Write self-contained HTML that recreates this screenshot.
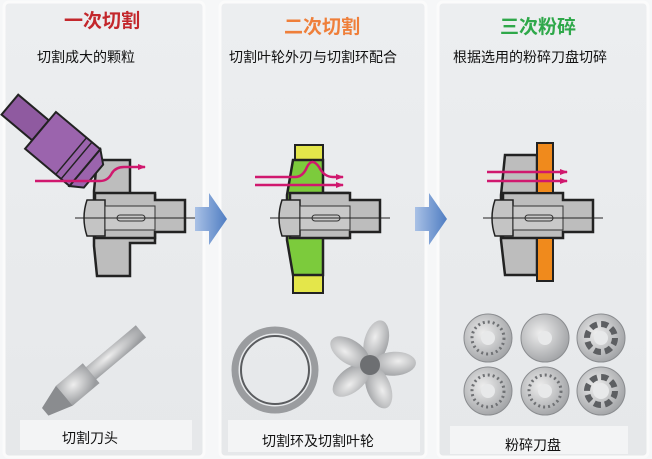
<!DOCTYPE html>
<html><head><meta charset="utf-8"><style>
body{margin:0;width:652px;height:459px;background:#fff;overflow:hidden;font-family:"Liberation Sans","Noto Sans CJK SC",sans-serif}
svg{position:absolute;left:0;top:0}
text{font-family:"Liberation Sans","Noto Sans CJK SC",sans-serif}
</style></head><body>
<svg width="652" height="459" viewBox="0 0 652 459">
<defs>
<linearGradient id="pg" x1="0" y1="0" x2="0" y2="1"><stop offset="0" stop-color="#eceef0"/><stop offset="1" stop-color="#e6e8ea"/></linearGradient>
<linearGradient id="ar" x1="0" y1="0" x2="1" y2="0"><stop offset="0" stop-color="#a9c1e6"/><stop offset="1" stop-color="#4f7dc2"/></linearGradient>
<radialGradient id="met" cx="0.4" cy="0.4" r="0.7"><stop offset="0" stop-color="#eeeeee"/><stop offset="1" stop-color="#9a9c9f"/></radialGradient>
<marker id="mk" markerUnits="userSpaceOnUse" markerWidth="8" markerHeight="8" refX="7" refY="4" orient="auto"><path d="M0,1 L8,4 L0,7z" fill="#d0186e"/></marker>
<g id="hub">
<path d="M0,-25 h60 v7 h30 v32 h-30 v6 h-60z" fill="#bdbdbd" stroke="#222" stroke-width="2.5"/>
<path d="M-8,-18 h18 v36 h-18 q-6,-18 0,-36z" fill="#c4c4c4" stroke="#222" stroke-width="1.5"/>
<rect x="10" y="-12" width="50" height="24" fill="#c9c9c9" stroke="#333" stroke-width="1"/>
<rect x="22" y="-3" width="28" height="6" rx="3" fill="none" stroke="#333" stroke-width="1"/>
<line x1="-20" y1="0" x2="100" y2="0" stroke="#222" stroke-width="1"/>
</g>
</defs>
<rect width="652" height="459" fill="#f6f7f8"/>
<rect x="4" y="2" width="200" height="455" rx="5" fill="url(#pg)" stroke="#fbfbfb" stroke-width="3"/>
<rect x="220" y="2" width="206" height="455" rx="5" fill="url(#pg)" stroke="#fbfbfb" stroke-width="3"/>
<rect x="438" y="2" width="210" height="455" rx="5" fill="url(#pg)" stroke="#fbfbfb" stroke-width="3"/>

<text x="64" y="27" font-size="19" font-weight="bold" fill="#c3272c">一次切割</text>
<text x="284" y="33" font-size="19" font-weight="bold" fill="#ef7f3a">二次切割</text>
<text x="500" y="33" font-size="19" font-weight="bold" fill="#2fa84a">三次粉碎</text>
<text x="37" y="62" font-size="14" fill="#111">切割成大的颗粒</text>
<text x="229" y="62" font-size="14" fill="#111">切割叶轮外刃与切割环配合</text>
<text x="453" y="62" font-size="14" fill="#111">根据选用的粉碎刀盘切碎</text>

<!-- panel1 part -->
<path d="M97,160 h33 v35 h25 v48 h-25 v33 h-33 l-3,-30 v-55 z" fill="#bdbdbd" stroke="#222" stroke-width="2.5"/>
<use href="#hub" x="95" y="218"/>
<g transform="translate(52,140) rotate(40)">
<rect x="-55" y="-13" width="40" height="26" fill="#8f5aa0" stroke="#222" stroke-width="2"/>
<rect x="-15" y="-24" width="58" height="48" fill="#9b64ad" stroke="#222" stroke-width="2"/>
<line x1="25" y1="-24" x2="25" y2="24" stroke="#222" stroke-width="1.5"/>
<line x1="32" y1="-24" x2="32" y2="24" stroke="#222" stroke-width="1.5"/>
<path d="M43,-24 l12,10 v30 l-12,8z" fill="#9b64ad" stroke="#222" stroke-width="2"/>
</g>
<path d="M35,181 H100 q8,0 12,-8 q4,-6 12,-6 H145" fill="none" stroke="#d0186e" stroke-width="2.5" marker-end="url(#mk)"/>

<!-- panel2 part -->
<rect x="295" y="145" width="28" height="17" fill="#e4e64a" stroke="#222" stroke-width="2"/>
<rect x="293" y="275" width="30" height="18" fill="#e4e64a" stroke="#222" stroke-width="2"/>
<path d="M293,160 h30 v33 h25 v45 h-25 v37 h-30 l-6,-35 v-45 z" fill="#7ccb3c" stroke="#222" stroke-width="2.5"/>
<use href="#hub" x="290" y="218"/>
<path d="M255,177 H295 q8,0 12,-10 q5,-10 12,0 q5,10 14,10 H343" fill="none" stroke="#d0186e" stroke-width="2.5" marker-end="url(#mk)"/>
<path d="M255,185 H343" fill="none" stroke="#d0186e" stroke-width="2.5" marker-end="url(#mk)"/>

<!-- panel3 part -->
<path d="M505,155 h32 v38 h12 v45 h-12 v37 h-32 l-4,-35 v-45 z" fill="#bdbdbd" stroke="#222" stroke-width="2.5"/>
<use href="#hub" x="503" y="218"/>
<rect x="537" y="143" width="16" height="50" fill="#f08a1c" stroke="#222" stroke-width="2"/>
<rect x="537" y="238" width="16" height="43" fill="#f08a1c" stroke="#222" stroke-width="2"/>
<path d="M487,172 H567" stroke="#d0186e" stroke-width="2.5" marker-end="url(#mk)"/>
<path d="M487,181 H567" stroke="#d0186e" stroke-width="2.5" marker-end="url(#mk)"/>

<!-- big arrows -->
<path d="M195,207 h14 v-14 l18,26 l-18,26 v-14 h-14z" fill="url(#ar)"/>
<path d="M415,207 h14 v-14 l18,26 l-18,26 v-14 h-14z" fill="url(#ar)"/>

<!-- panel1 photo: cutter head -->
<g transform="translate(95,370) rotate(-40)">
<rect x="-10" y="-8" width="70" height="16" fill="url(#met)"/>
<rect x="-40" y="-13" width="35" height="26" fill="url(#met)"/>
<path d="M-40,-13 l-25,8 v10 l25,8z" fill="#8a8c8f"/>
</g>
<!-- panel2 photos -->
<circle cx="275" cy="370" r="40" fill="none" stroke="#9a9c9f" stroke-width="7"/>
<circle cx="275" cy="370" r="34" fill="none" stroke="#5a5c5f" stroke-width="2"/>
<g transform="translate(370,365)" fill="url(#met)">
<ellipse cx="0" cy="-24" rx="12" ry="22" transform="rotate(15)"/>
<ellipse cx="0" cy="-24" rx="12" ry="22" transform="rotate(87)"/>
<ellipse cx="0" cy="-24" rx="12" ry="22" transform="rotate(159)"/>
<ellipse cx="0" cy="-24" rx="12" ry="22" transform="rotate(231)"/>
<ellipse cx="0" cy="-24" rx="12" ry="22" transform="rotate(303)"/>
<circle r="10" fill="#6d6f72"/>
</g>
<!-- panel3 discs -->
<g fill="url(#met)" stroke="#8a8c8f" stroke-width="1">
<circle cx="488" cy="338" r="24"/><circle cx="545" cy="338" r="24"/><circle cx="601" cy="338" r="24"/>
<circle cx="488" cy="391" r="24"/><circle cx="545" cy="391" r="24"/><circle cx="601" cy="391" r="24"/>
</g>
<g fill="none" stroke="#6f7174" stroke-width="3" stroke-dasharray="2 3">
<circle cx="488" cy="338" r="16"/><circle cx="488" cy="391" r="16"/><circle cx="545" cy="391" r="16"/>
</g>
<g fill="none" stroke="#5d5f62" stroke-width="6" stroke-dasharray="7 4">
<circle cx="601" cy="338" r="14"/><circle cx="601" cy="391" r="14"/>
</g>
<g fill="#e8e9ea"><circle cx="488" cy="338" r="7"/><circle cx="545" cy="338" r="7"/><circle cx="601" cy="338" r="7"/>
<circle cx="488" cy="391" r="7"/><circle cx="545" cy="391" r="7"/><circle cx="601" cy="391" r="8"/></g>

<!-- label boxes -->
<rect x="20" y="420" width="172" height="30" fill="#f3f4f5"/>
<rect x="228" y="420" width="192" height="32" fill="#f3f4f5"/>
<rect x="450" y="426" width="178" height="28" fill="#f3f4f5"/>
<text x="62" y="443" font-size="14" fill="#111">切割刀头</text>
<text x="262" y="446" font-size="14" fill="#111">切割环及切割叶轮</text>
<text x="505" y="450" font-size="14" fill="#111">粉碎刀盘</text>
</svg>
</body></html>
